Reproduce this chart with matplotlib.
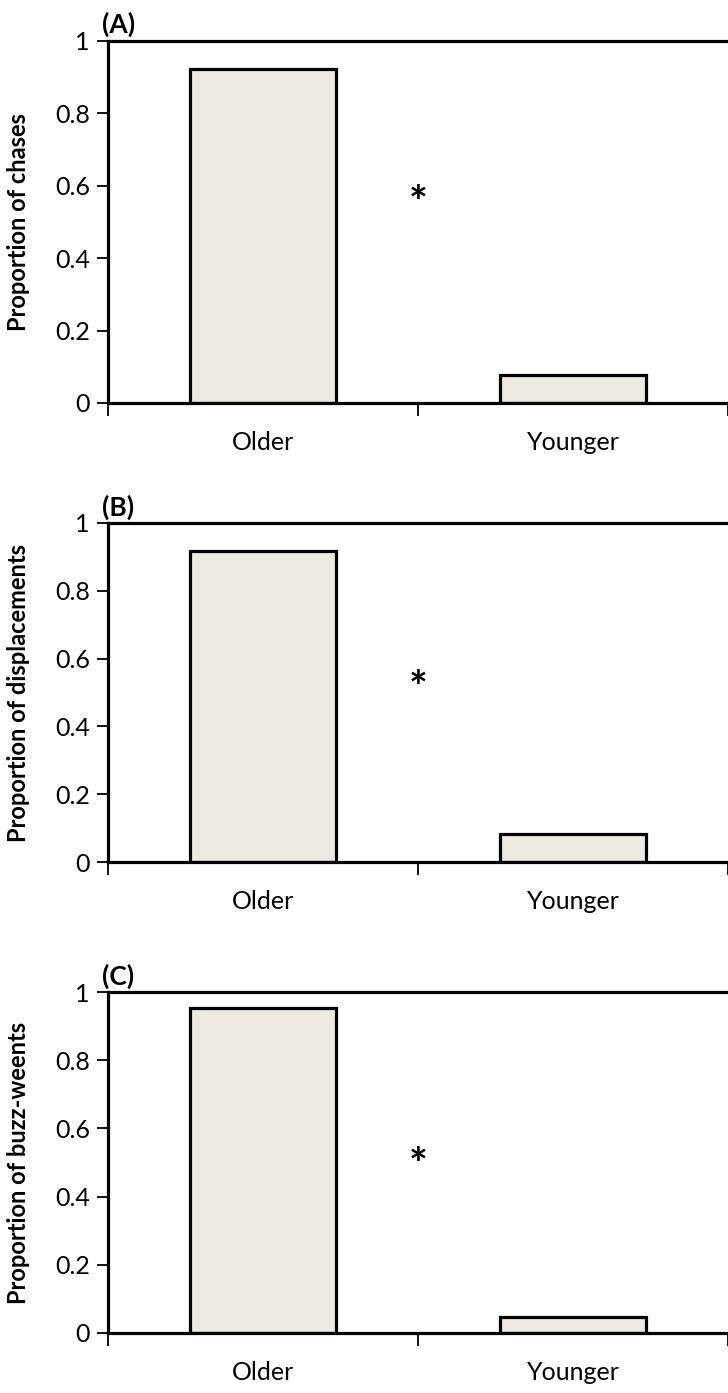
import matplotlib
matplotlib.use("Agg")
import matplotlib.pyplot as plt

categories = ["Older", "Younger"]
panel_labels = ["(A)", "(B)", "(C)"]
ylabels = ["Proportion of chases", "Proportion of displacements", "Proportion of buzz-weents"]
values_A = [0.922, 0.078]
values_B = [0.917, 0.083]
values_C = [0.952, 0.048]
star_y = [0.55, 0.51, 0.49]
yticks = [0, 0.2, 0.4, 0.6, 0.8, 1]
ytick_labels = ["0", "0.2", "0.4", "0.6", "0.8", "1"]

W, H = 728, 1393
fig = plt.figure(figsize=(W / 100, H / 100), dpi=100)
plt.rcParams['font.family'] = ['Lato', 'DejaVu Sans']

# axes pixel boxes: (top, bottom)
boxes = [(41, 403), (523, 862), (992, 1333)]
left_px, right_px = 108, 728
all_vals = [values_A, values_B, values_C]
bar_color = '#ECEAE0'
lw = 2.3

for i, (top, bot) in enumerate(boxes):
    ax = fig.add_axes([left_px / W, 1 - bot / H, (right_px - left_px) / W, (bot - top) / H])
    xs = [0.5, 1.5]
    ax.bar(xs, all_vals[i], width=0.47, color=bar_color, edgecolor='black', linewidth=lw)
    ax.set_xlim(0, 2)
    ax.set_ylim(0, 1)
    ax.set_yticks(yticks)
    ax.set_yticklabels(ytick_labels, fontsize=18)
    ax.set_xticks(xs)
    ax.set_xticklabels(categories, fontsize=18)
    ax.tick_params(axis='x', which='major', length=0, pad=20)
    ax.set_xticks([0, 1, 2], minor=True)
    ax.tick_params(axis='x', which='minor', length=9, width=1.3, direction='out')
    ax.tick_params(axis='y', length=8, width=1.3, direction='out', pad=5)
    for s in ['top', 'left', 'bottom']:
        ax.spines[s].set_linewidth(lw)
    ax.spines['right'].set_visible(False)
    ax.set_ylabel(ylabels[i], fontsize=17, fontweight='bold')
    ax.yaxis.set_label_coords(-0.125, 0.5)
    ax.text(1.0, star_y[i], "*", fontsize=32, fontweight='bold', ha='center', va='center')
    ax.text(-0.01, 1.01, panel_labels[i], transform=ax.transAxes, fontsize=19,
            fontweight='bold', ha='left', va='bottom')

fig.savefig("out.png", dpi=100)
